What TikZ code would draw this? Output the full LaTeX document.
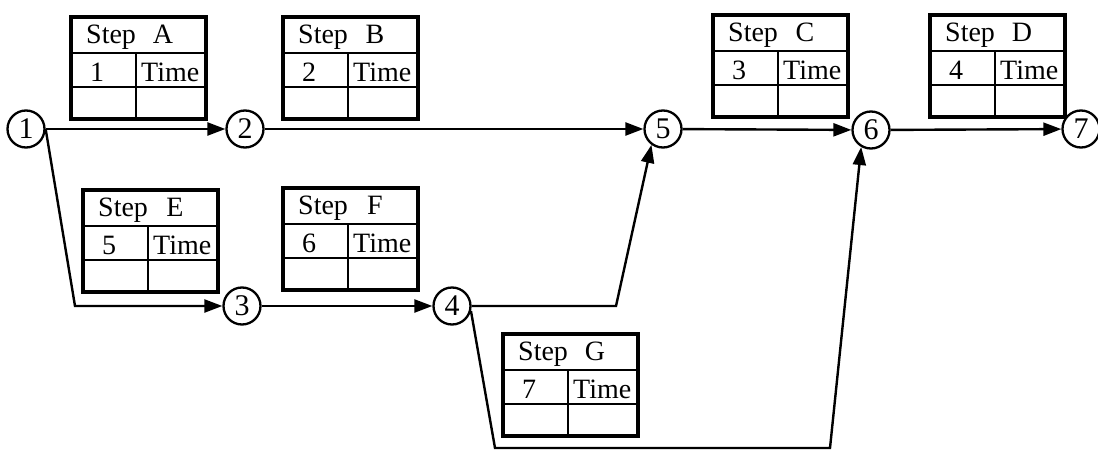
\documentclass[tikz,border=0pt]{standalone}
\usepackage{fontspec}
\setmainfont{Liberation Serif}
\usetikzlibrary{arrows.meta}
\newcommand{\acttable}[5]{%
  \draw[outerline] (#2,#3) rectangle ++(135,102);
  \draw[innerline] (#2,#3+36) -- ++(135,0);
  \draw[innerline] (#2,#3+70) -- ++(135,0);
  \draw[innerline] (#2+65,#3+36) -- (#2+65,#3+102);
  \node[celltxt,anchor=base west] (#1s) at (#2+15,#3+26) {Step};
  \node[celltxt,anchor=base] (#1l) at (#2+92,#3+26) {#4};
  \node[celltxt,anchor=base] (#1n) at (#2+26,#3+64) {#5};
  \node[celltxt,anchor=base west] (#1t) at (#2+70,#3+64) {Time};
}
\begin{document}
\begin{tikzpicture}[x=1pt,y=-1pt,
  outerline/.style={line width=3.4pt},
  innerline/.style={line width=2.8pt},
  celltxt/.style={inner sep=0pt,font=\fontsize{28pt}{31pt}\selectfont},
  event/.style={circle,draw,line width=2.3pt,minimum size=37pt,inner sep=0pt,font=\fontsize{30pt}{32pt}\selectfont},
  arr/.style={line width=2.4pt,-{Triangle[length=18pt,width=13pt]}},
  plain/.style={line width=2.4pt}]
\useasboundingbox (0,0) rectangle (1098,450);
\acttable{ta}{71}{17}{A}{1}
\acttable{tb}{283}{17}{B}{2}
\acttable{tc}{713}{15}{C}{3}
\acttable{td}{930}{15}{D}{4}
\acttable{te}{83}{190}{E}{5}
\acttable{tf}{283}{188}{F}{6}
\acttable{tg}{503}{334}{G}{7}
\node[event] (n1) at (26,129) {1};
\node[event] (n2) at (245,129) {2};
\node[event] (n3) at (242,306) {3};
\node[event] (n4) at (452,306) {4};
\node[event] (n5) at (663,129) {5};
\node[event] (n6) at (871,130) {6};
\node[event] (n7) at (1081,129) {7};
\coordinate (c13) at (75,306);
\coordinate (c45) at (616,306);
\coordinate (c46a) at (495,448);
\coordinate (c46b) at (830,448);
\draw[arr] (n1) -- (n2);
\draw[arr] (n2) -- (n5);
\draw[arr] (n5) -- (n6);
\draw[arr] (n6) -- (n7);
\draw[arr] (n1.east) -- (c13) -- (n3);
\draw[arr] (n3) -- (n4);
\draw[arr] (n4.east) -- (c45) -- (n5.-126);
\draw[arr] (n4.-15) -- (c46a) -- (c46b) -- (n6.-120);
\end{tikzpicture}
\end{document}
